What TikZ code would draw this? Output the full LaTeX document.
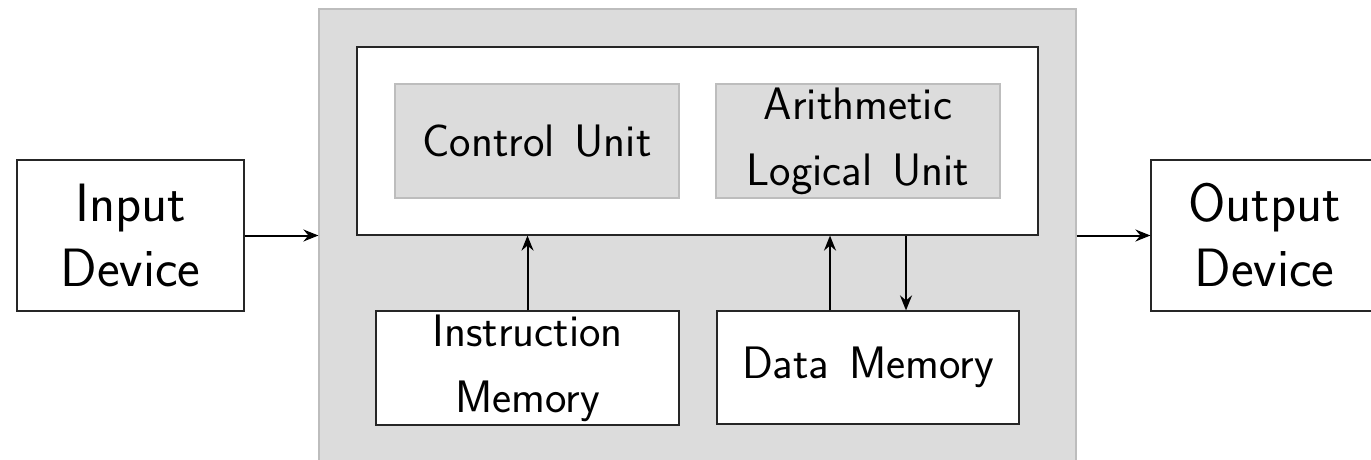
\documentclass[tikz,border=0pt]{standalone}
\usepackage{fontspec}
\usetikzlibrary{arrows.meta}
\definecolor{panel}{HTML}{DCDCDC}
\definecolor{panelline}{HTML}{BDBDBD}
% sans text with a slightly wider word space
\newcommand{\labelfont}[2]{\sffamily\fontsize{#1}{#2}\selectfont\spaceskip=1.4\fontdimen2\font}
\tikzset{
  unit/.style={inner sep=0pt, align=center, line width=1.2pt,
    font=\labelfont{45.5}{66}},
  whitebox/.style={unit, draw=black!85, fill=white},
  graybox/.style={unit, draw=panelline, fill=panel},
  device/.style={whitebox, minimum width=227pt, minimum height=151pt,
    font=\labelfont{54}{65}},
  link/.style={line width=2pt, -{Stealth[length=15pt,width=12pt,inset=5pt]}}
}
\begin{document}
\begin{tikzpicture}[x=1pt,y=-1pt]
\useasboundingbox (0,0) rectangle (1371,460);
\clip (0,0) rectangle (1371,460);

% processor enclosure
\node[graybox, minimum width=757pt, minimum height=471pt] (cpu) at (697.5,244.5) {};

% core with control unit and ALU
\node[whitebox, minimum width=681pt, minimum height=188pt] (core) at (697.5,141) {};
\node[graybox, minimum width=284pt, minimum height=114pt] (cu) at (537,141) {Control Unit};
\node[graybox, minimum width=284pt, minimum height=114pt] (alu) at (858,141) {Arithmetic\\Logical Unit};

% memories
\node[whitebox, minimum width=303pt, minimum height=114pt] (imem) at (527.5,368) {Instruction\\Memory};
\node[whitebox, minimum width=302pt, minimum height=113pt] (dmem) at (868,367.5) {Data Memory};

% peripherals
\node[device] (in) at (130.5,235.5) {Input\\Device};
\node[device] (out) at (1264.5,235.5) {Output\\Device};

% connections
\draw[link] (in.east) -- (in.east -| cpu.west);
\draw[link] (cpu.east |- out.west) -- (out.west);
\draw[link] (imem.north) -- (imem.north |- core.south);
\draw[link] ([xshift=-38pt]dmem.north) -- ([xshift=-38pt]dmem.north |- core.south);
\draw[link] ([xshift=38pt]dmem.north |- core.south) -- ([xshift=38pt]dmem.north);
\end{tikzpicture}
\end{document}
